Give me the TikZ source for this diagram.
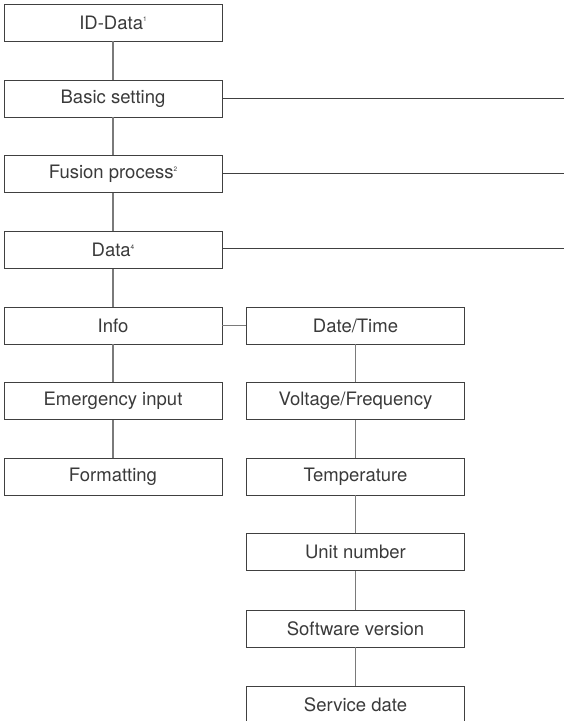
\documentclass[tikz,border=0pt]{standalone}
\usepackage{fontspec}
\setmainfont{TeX Gyre Heros}
\definecolor{boxline}{HTML}{404040}
\definecolor{linkline}{HTML}{7A7A7A}
\definecolor{txt}{HTML}{3A3A3A}
\newcommand{\fnmark}[1]{\raisebox{0.75ex}{\fontsize{6.5}{6.5}\selectfont #1}}
\tikzset{
	menubox/.style={draw=boxline, line width=0.9pt, minimum width=218pt, minimum height=37pt, inner sep=0pt, text=txt, font=\fontsize{18.5}{22}\selectfont},
	link/.style={draw=linkline, line width=1.3pt},
	branch/.style={draw=boxline, line width=1pt}
}
\begin{document}
\begin{tikzpicture}[x=1pt,y=-1pt]
	\useasboundingbox (0,0) rectangle (564,721);
	% left column
	\node [menubox] (id) at (113,22.5) {ID-Data\fnmark{1}};
	\node [menubox] (basic) at (113,98.5) {Basic setting};
	\node [menubox] (fusion) at (113,174) {Fusion process\fnmark{2}};
	\node [menubox] (data) at (113,250) {Data\fnmark{4}};
	\node [menubox] (info) at (113,325.5) {Info};
	\node [menubox] (emerg) at (113,401) {Emergency input};
	\node [menubox] (format) at (113,476.5) {Formatting};
	% right column
	\node [menubox] (date) at (355.5,325.5) {Date/Time};
	\node [menubox] (volt) at (355.5,401) {Voltage/Frequency};
	\node [menubox] (temp) at (355.5,476.5) {Temperature};
	\node [menubox] (unit) at (355.5,552) {Unit number};
	\node [menubox] (soft) at (355.5,628.5) {Software version};
	\node [menubox] (serv) at (355.5,704.5) {Service date};
	% free ends at the right edge
	\coordinate (basicEnd) at (564,98.5);
	\coordinate (fusionEnd) at (564,173);
	\coordinate (dataEnd) at (564,248.5);
	% connectors
	\draw [link] (id) -- (basic);
	\draw [link] (basic) -- (fusion);
	\draw [link] (fusion) -- (data);
	\draw [link] (data) -- (info);
	\draw [link] (info) -- (emerg);
	\draw [link] (emerg) -- (format);
	\draw [link] (info) -- (date);
	\draw [link] (date) -- (volt);
	\draw [link] (volt) -- (temp);
	\draw [link] (temp) -- (unit);
	\draw [link] (unit) -- (soft);
	\draw [link] (soft) -- (serv);
	\draw [branch] (basic.east) -- (basicEnd);
	\draw [branch] (fusion.east |- fusionEnd) -- (fusionEnd);
	\draw [branch] (data.east |- dataEnd) -- (dataEnd);
\end{tikzpicture}
\end{document}
